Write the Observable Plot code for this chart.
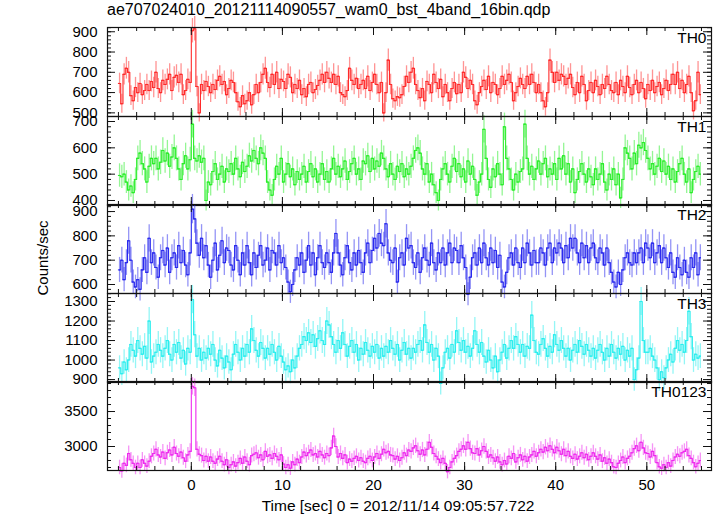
<!DOCTYPE html>
<html><head><meta charset="utf-8">
<script src="https://cdn.jsdelivr.net/npm/d3@7"></script>
<script src="https://cdn.jsdelivr.net/npm/@observablehq/plot@0.6"></script>
<style>
body{margin:0;background:#fff;}
#wrap{position:relative;width:717px;height:516px;font-family:"Liberation Sans",Arial,sans-serif;color:#000;overflow:hidden;background:#fff;}
.abs{position:absolute;}
#title{left:107px;top:1px;font-size:16px;white-space:nowrap;}
#ylab{left:42px;top:258px;transform:translate(-50%,-50%) rotate(-90deg);font-size:15px;white-space:nowrap;}
#xlab{left:398px;top:497px;transform:translateX(-50%);font-size:15.5px;white-space:nowrap;}
svg{position:absolute;left:0;}
</style></head><body>
<div id="wrap">
  <div id="title" class="abs">ae707024010_20121114090557_wam0_bst_4band_16bin.qdp</div>
  <div id="ylab" class="abs">Counts/sec</div>
  <div id="xlab" class="abs">Time [sec] 0 = 2012/11/14 09:05:57.722</div>
</div>
<script>
// ---- data (0.25 s bins starting at t = -8 s) ----
const tStart = -8, binWidth = 0.25;
const th0 = [
 645,545,690,720, 700,585,560,625, 600,645,590,610, 640,610,655,625,
 700,620,600,660, 640,665,690,610, 675,685,650,690, 590,610,665,650,
 905,915,630,500, 640,610,655,630, 600,640,615,660, 680,640,655,590,
 620,660,650,600, 555,530,585,545, 560,600,540,590, 640,600,650,690,
 720,650,625,690, 640,700,620,665, 655,620,690,675, 600,640,620,660,
 590,620,580,640, 650,600,615,635, 660,690,650,700, 670,650,690,640,
 680,600,590,580, 610,720,660,640, 670,620,640,660, 620,680,610,650,
 690,640,600,650, 500,600,760,640, 570,560,580,575, 590,630,680,650,
 700,720,640,610, 575,620,560,655, 640,600,690,650, 620,665,580,640,
 600,560,620,650, 595,640,600,700, 675,620,660,640, 560,540,600,630,
 660,615,680,600, 650,640,590,620, 680,640,660,690, 650,560,600,630,
 670,640,620,680, 640,690,650,600, 640,600,560,530, 600,760,700,650,
 700,660,690,680, 640,670,690,625, 590,650,600,680, 640,560,610,650,
 600,660,630,590, 640,620,680,640, 610,600,650,590, 660,630,600,680,
 625,590,640,660, 600,650,620,570, 640,610,660,600, 630,650,590,620,
 660,610,640,690, 640,700,620,660, 600,640,680,600, 510,560,700,590];
const th1 = [
 495,490,500,470, 440,455,430,480, 560,580,540,520, 470,530,560,540,
 560,520,545,590, 550,580,530,565, 600,560,520,480, 540,570,520,555,
 690,560,550,570, 545,560,400,470, 460,510,540,480, 500,530,470,520,
 510,540,500,560, 520,490,545,510, 530,570,550,590, 560,540,600,580,
 560,470,440,420, 480,530,500,560, 470,500,540,490, 520,460,510,480,
 500,530,470,510, 540,490,520,470, 500,540,480,510, 470,520,560,500,
 530,490,520,550, 480,510,540,560, 500,520,480,550, 540,570,510,560,
 520,550,530,580, 560,520,490,540, 500,480,530,510, 540,490,520,500,
 530,560,590,600, 580,520,500,540, 470,500,460,430, 400,480,520,540,
 500,470,530,560, 510,540,490,520, 470,550,500,530, 480,420,470,500,
 670,560,480,450, 520,490,540,500, 460,680,560,520, 480,440,500,470,
 510,520,690,560, 500,530,480,520, 550,500,540,560, 490,520,500,540,
 480,560,520,570, 500,540,470,520, 430,480,510,540, 500,470,520,490,
 460,520,480,500, 540,470,440,500, 480,520,460,500, 410,480,600,580,
 560,520,580,540, 610,600,620,590, 560,520,540,500, 530,560,510,550,
 500,530,480,520, 470,510,540,560, 500,470,520,430, 480,510,530,500];
const th2 = [
 660,700,620,690, 780,700,610,590, 620,580,660,710, 650,790,690,730,
 670,630,710,740, 680,750,650,710, 730,670,760,690, 740,680,640,730,
 910,870,770,720, 790,710,760,680, 630,700,770,660, 720,780,690,750,
 740,680,660,760, 700,640,730,680, 760,690,640,730, 670,720,760,680,
 700,750,660,740, 730,680,760,690, 710,670,610,570, 600,660,710,680,
 730,650,700,760, 680,730,640,710, 760,690,670,730, 690,650,730,810,
 730,680,640,710, 760,690,660,730, 680,740,690,650, 730,770,690,740,
 790,750,810,770, 760,850,730,700, 690,750,610,710, 730,680,790,750,
 760,690,670,730, 650,710,750,700, 680,770,690,660, 730,690,750,680,
 730,770,690,750, 740,690,760,710, 670,560,630,710, 730,680,750,690,
 770,710,680,750, 690,740,670,720, 610,590,650,710, 730,680,750,690,
 670,750,690,770, 730,680,740,690, 690,750,730,680, 750,770,690,750,
 730,770,750,690, 760,710,790,750, 790,730,690,770, 710,760,690,750,
 770,710,690,750, 730,680,750,690, 650,610,590,650, 600,660,710,730,
 690,680,730,690, 730,750,690,770, 750,710,770,690, 730,760,690,750,
 710,670,730,650, 630,710,670,640, 700,650,630,710, 670,730,640,710];
const th3 = [
 960,930,990,950, 1000,1080,1050,1020, 1100,1060,1030,1070, 1010,1200,990,1020,
 1040,1080,1050,1020, 1060,1100,1030,1000, 1080,1040,1090,1010, 1050,980,1060,1040,
 1310,1130,1020,1060, 1000,1040,1010,1060, 1030,1080,1000,970, 1050,1010,960,1020,
 990,950,1030,1080, 1040,1000,1060,1020, 1080,1040,1160,1100, 1050,1020,1090,1060,
 1010,1060,1030,1080, 1040,1000,1070,1020, 990,950,970,940, 1000,960,1020,1060,
 1080,1120,1100,1140, 1090,1130,1070,1110, 1150,1100,1080,1200, 1180,1120,1080,1040,
 1100,1060,1140,1080, 1020,1070,1100,1040, 1080,1000,1060,1030, 1090,1050,1020,1070,
 1040,1080,1010,1060, 1020,1070,1040,1100, 1060,1030,1080,1000, 1050,1090,1030,1060,
 1010,1060,1040,1080, 1100,1050,1180,1090, 1040,1080,1000,1060, 1020,880,960,1040,
 1060,1010,1080,1040, 1150,1090,1050,1100, 1040,1070,1020,1060, 1150,1080,1040,1090,
 1020,990,1050,1000, 960,1020,940,1000, 1040,1080,1010,1060, 1100,1060,1120,1080,
 1040,1080,1020,1070, 1060,1230,1100,1040, 1030,1080,1110,1060, 1020,1070,1040,1130,
 1080,1050,1100,1060, 1020,1060,1000,1050, 1080,1040,1100,1070, 1030,1080,1050,1020,
 1060,1010,1050,1080, 1040,1000,1060,1020, 1080,1040,1010,1060, 1030,1070,1000,1050,
 1020,1060,900,950, 1010,1300,1100,1040, 1040,1060,1020,1000, 960,900,940,910,
 960,1000,1030,990, 1060,1100,1050,1080, 1040,1100,1250,1120, 1000,1030,1010,1020];
const th0123 = [
 2700,2650,2760,2730, 2900,2810,2760,2700, 2760,2700,2810,2760, 2720,2790,2860,2900,
 2960,2880,2850,2920, 2830,2910,2950,2880, 2990,2900,2860,2920, 2840,2790,2880,2930,
 3860,3840,2960,2890, 2870,2800,2860,2790, 2850,2790,2760,2820, 2860,2790,2740,2810,
 2700,2740,2780,2720, 2770,2830,2760,2850, 2790,2740,2870,2890, 2910,2840,2880,2810,
 2930,2860,2880,2830, 2900,2860,2810,2880, 2750,2700,2740,2690, 2780,2740,2820,2770,
 2850,2920,2870,2910, 2950,2880,2900,2850, 2930,2880,2840,2900, 2870,2980,3150,3000,
 2850,2900,2830,2880, 2770,2820,2790,2830, 2860,2800,2840,2790, 2770,2830,2860,2800,
 2850,2900,2830,2890, 2960,2910,2930,2880, 2870,2820,2860,2800, 2840,2910,2870,2950,
 2930,2980,3010,2940, 2890,2950,2880,2960, 3060,2990,2900,2860, 2820,2770,2830,2760,
 2640,2700,2780,2830, 2870,2930,2960,3010, 2960,3060,2970,2910, 2900,2970,2880,2940,
 3000,2930,2850,2880, 2840,2790,2850,2780, 2740,2800,2750,2860, 2830,2900,2780,2840,
 2880,2810,2860,2790, 2850,2880,2930,2860, 2910,2960,2920,2990, 2940,3010,2960,2910,
 2990,2940,2890,2960, 2870,2930,2860,2830, 2890,2820,2860,2910, 2840,2890,2810,2860,
 2910,2860,2820,2880, 2790,2840,2760,2820, 2770,2710,2700,2760, 2800,2850,2770,2830,
 2860,2910,2970,3010, 2940,3060,2980,2910, 2900,2850,2930,2870, 2770,2710,2690,2740,
 2700,2770,2720,2800, 2850,2890,2860,2910, 2930,2960,2870,2830, 2770,2710,2760,2800];

const panelNames = ["TH0", "TH1", "TH2", "TH3", "TH0123"];
const series = [th0, th1, th2, th3, th0123];
const yMajor = [
  [500, 600, 700, 800, 900],
  [400, 500, 600, 700],
  [600, 700, 800, 900],
  [900, 1000, 1100, 1200, 1300],
  [3000, 3500]];
const yMinorStep = [20, 20, 20, 20, 100];
const xMajor = [0, 10, 20, 30, 40, 50];
const xMinorStep = 2;

// ---- layout / style ----
const yDomains = [[482, 921], [381, 719], [563, 929], [885, 1341], [2657, 3929]];
const colors = ["#ff2a2a", "#2aee2a", "#2a2aee", "#2aeeee", "#ee2aee"];
const W = 717, ML = 107, MR = 6, H = 89;
const tops = [27, 116, 204, 293, 381];
const xDomain = [-9.2, 57.1];
const fw = W - ML - MR;
const xMinor = d3.range(-8, 56.01, xMinorStep);

const wrap = document.getElementById("wrap");
series.forEach((vals, i) => {
  const last = i === series.length - 1;
  const col = colors[i];
  // Poisson error of a rate measured over one bin
  const data = vals.map((v, j) => ({t: tStart + (j + 0.5) * binWidth, v, e: Math.sqrt(v / binWidth)}));
  const [y0, y1] = yDomains[i];
  const yMinor = d3.range(Math.ceil(y0 / yMinorStep[i]) * yMinorStep[i], y1, yMinorStep[i]);
  const mb = last ? 46 : 0;
  const marks = [
    Plot.ruleX(data, {x: "t", y1: d => d.v - d.e, y2: d => d.v + d.e, stroke: col, strokeOpacity: 0.5, strokeWidth: 1.3}),
    Plot.line(data, {x: "t", y: "v", curve: "step", stroke: col, strokeWidth: 1.1}),
    Plot.ruleY(data, {y: "v", x1: d => d.t - binWidth / 2, x2: d => d.t + binWidth / 2, stroke: col, strokeWidth: 1.1}),
    // inward ticks, x (top & bottom)
    Plot.ruleX(xMinor, {stroke: "#111", strokeWidth: 1, insetBottom: H - 4}),
    Plot.ruleX(xMinor, {stroke: "#111", strokeWidth: 1, insetTop: H - 4}),
    Plot.ruleX(xMajor, {stroke: "#111", strokeWidth: 1, insetBottom: H - 8}),
    Plot.ruleX(xMajor, {stroke: "#111", strokeWidth: 1, insetTop: H - 8}),
    // inward ticks, y (left & right)
    Plot.ruleY(yMinor, {stroke: "#111", strokeWidth: 1, insetRight: fw - 4}),
    Plot.ruleY(yMinor, {stroke: "#111", strokeWidth: 1, insetLeft: fw - 4}),
    Plot.ruleY(yMajor[i], {stroke: "#111", strokeWidth: 1, insetRight: fw - 8}),
    Plot.ruleY(yMajor[i], {stroke: "#111", strokeWidth: 1, insetLeft: fw - 8}),
    Plot.frame({stroke: "#111", strokeWidth: 1.2}),
    Plot.axisY({ticks: yMajor[i], tickSize: 0, tickPadding: 10, fontSize: 15, label: null, tickFormat: d => String(d)}),
    Plot.text([panelNames[i]], {text: d => d, frameAnchor: "top-right", dx: -5, dy: 4, lineAnchor: "top", textAnchor: "end", fontSize: 15.5, fill: "#000"})
  ];
  if (last) marks.push(Plot.axisX({ticks: xMajor, tickSize: 0, tickPadding: 9, fontSize: 15, label: null, tickFormat: d => String(d)}));
  const svg = Plot.plot({
    width: W, height: H + mb,
    marginLeft: ML, marginRight: MR, marginTop: 0, marginBottom: mb,
    style: {fontFamily: "Liberation Sans, Arial, sans-serif", fontSize: "15px", background: "transparent", overflow: "visible", color: "#000"},
    x: {domain: xDomain, axis: last ? undefined : null},
    y: {domain: yDomains[i]},
    marks
  });
  svg.style.top = tops[i] + "px";
  svg.style.position = "absolute";
  wrap.appendChild(svg);
});
</script>
</body></html>
